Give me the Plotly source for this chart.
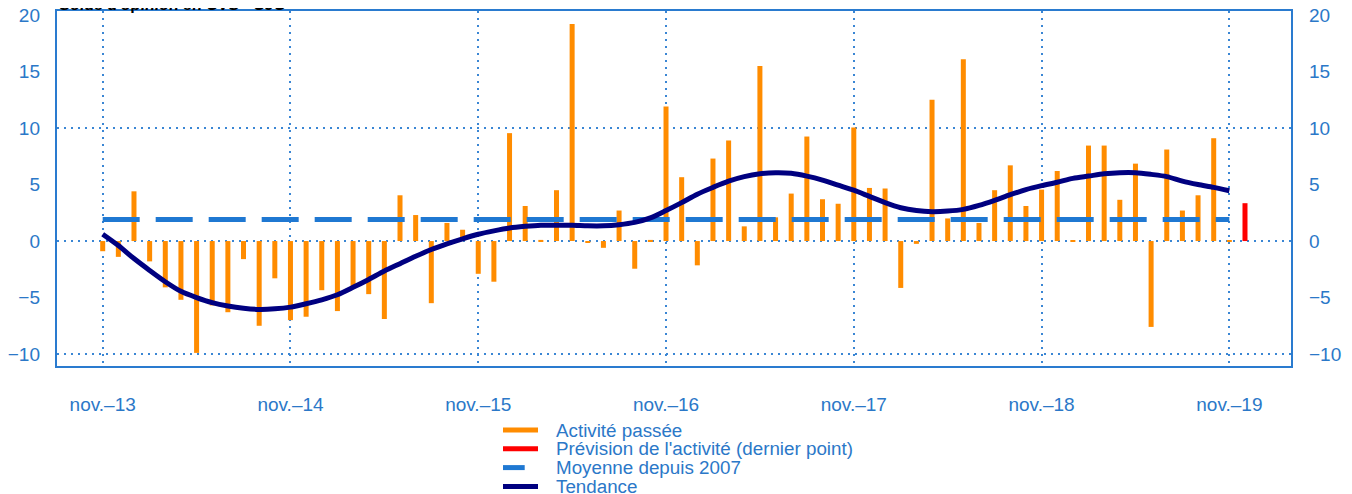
import plotly.graph_objects as go

# ---- data -------------------------------------------------------------
months = [
    "2013-11", "2013-12",
    "2014-01", "2014-02", "2014-03", "2014-04", "2014-05", "2014-06",
    "2014-07", "2014-08", "2014-09", "2014-10", "2014-11", "2014-12",
    "2015-01", "2015-02", "2015-03", "2015-04", "2015-05", "2015-06",
    "2015-07", "2015-08", "2015-09", "2015-10", "2015-11", "2015-12",
    "2016-01", "2016-02", "2016-03", "2016-04", "2016-05", "2016-06",
    "2016-07", "2016-08", "2016-09", "2016-10", "2016-11", "2016-12",
    "2017-01", "2017-02", "2017-03", "2017-04", "2017-05", "2017-06",
    "2017-07", "2017-08", "2017-09", "2017-10", "2017-11", "2017-12",
    "2018-01", "2018-02", "2018-03", "2018-04", "2018-05", "2018-06",
    "2018-07", "2018-08", "2018-09", "2018-10", "2018-11", "2018-12",
    "2019-01", "2019-02", "2019-03", "2019-04", "2019-05", "2019-06",
    "2019-07", "2019-08", "2019-09", "2019-10", "2019-11",
]
forecast_month = "2019-12"

activite = [
    -0.9, -1.4,
    4.4, -1.8, -4.1, -5.2, -9.9, -5.7, -6.3, -1.6, -7.5, -3.3, -7.0, -6.7,
    -4.35, -6.2, -4.2, -4.7, -6.9, 4.05, 2.3, -5.5, 1.6, 1.0, -2.9, -3.6,
    9.55, 3.1, 0.1, 4.5, 19.2, -0.15, -0.6, 2.7, -2.45, 0.1, 11.9, 5.65,
    -2.15, 7.3, 8.9, 1.3, 15.5, 2.1, 4.2, 9.25, 3.7, 3.3, 10.05, 4.7,
    4.65, -4.15, -0.25, 12.5, 2.0, 16.1, 1.6, 4.5, 6.7, 3.1, 4.55, 6.2,
    0.05, 8.45, 8.45, 3.65, 6.85, -7.6, 8.1, 2.7, 4.05, 9.1, 0.05,
]
prevision = [3.35]
moyenne = 1.9
tendance = [
    0.6, -0.4,
    -1.55, -2.6, -3.6, -4.45, -5.0, -5.45, -5.75, -5.95, -6.05, -6.0, -5.85, -5.55,
    -5.2, -4.75, -4.1, -3.4, -2.65, -2.0, -1.35, -0.75, -0.25, 0.2, 0.6, 0.9,
    1.15, 1.3, 1.4, 1.4, 1.4, 1.35, 1.35, 1.45, 1.65, 2.05, 2.7, 3.4,
    4.15, 4.75, 5.3, 5.7, 5.95, 6.05, 6.0, 5.75, 5.4, 4.95, 4.5, 3.95,
    3.4, 2.95, 2.7, 2.6, 2.65, 2.8, 3.15, 3.6, 4.1, 4.55, 4.9, 5.2,
    5.55, 5.75, 5.95, 6.05, 6.05, 5.9, 5.7, 5.3, 5.0, 4.75, 4.45,
]
tick_months = ["2013-11", "2014-11", "2015-11", "2016-11", "2017-11", "2018-11", "2019-11"]
tick_labels = ["nov.–13", "nov.–14", "nov.–15", "nov.–16", "nov.–17", "nov.–18", "nov.–19"]
y_ticks = [-10, -5, 0, 5, 10, 15, 20]
y_grid = [-10, 0, 10]

legend_names = ["Activité passée", "Prévision de l'activité (dernier point)",
                "Moyenne depuis 2007", "Tendance"]
title_text = "Solde d'opinion en CVS - CJO"

# ---- styles -------------------------------------------------------------
ORANGE = "#FF8C00"
RED = "#FF0000"
MEAN_BLUE = "#1F78D2"
NAVY = "#000080"
AXIS_BLUE = "#2A7BCF"
TEXT_BLUE = "#2B78C8"
GRID_BLUE = "#3A86D4"
FONT = "Liberation Sans, Arial, sans-serif"

idx = {m: i for i, m in enumerate(months + [forecast_month])}
xs = [idx[m] for m in months]
x_fc = [idx[forecast_month]]
tickvals = [idx[m] for m in tick_months]

YR = [-11.06, 20.36]
XR = [-2.92, 75.94]

fig = go.Figure()
fig.add_trace(go.Bar(x=xs, y=activite, width=0.32, marker=dict(color=ORANGE, line_width=0),
                     name=legend_names[0], showlegend=False))
fig.add_trace(go.Bar(x=x_fc, y=prevision, width=0.32, marker=dict(color=RED, line_width=0),
                     name=legend_names[1], showlegend=False))
fig.add_trace(go.Scatter(x=xs, y=[moyenne] * len(xs), mode="lines", yaxis="y2",
                         line=dict(color=MEAN_BLUE, width=5, dash="37px,16px"),
                         name=legend_names[2], showlegend=False))
fig.add_trace(go.Scatter(x=xs, y=tendance, mode="lines", yaxis="y3",
                         line=dict(color=NAVY, width=5, shape="spline", smoothing=0.8),
                         name=legend_names[3], showlegend=False))

tickfont = dict(family=FONT, size=19, color=TEXT_BLUE)

# page has an 8px body margin: figure is 1344x486, placed at (8, 8)
fig.update_layout(
    width=1344, height=486,
    margin=dict(l=49, r=61, t=3, b=128, autoexpand=False),
    paper_bgcolor="white", plot_bgcolor="white",
    barmode="overlay",
    showlegend=False,
    xaxis=dict(range=XR, tickmode="array", tickvals=tickvals, ticktext=tick_labels,
               showgrid=True, gridcolor=GRID_BLUE, griddash="2px,5px", gridwidth=1.6,
               showline=True, linecolor=AXIS_BLUE, linewidth=2, mirror=True,
               ticks="", zeroline=False, tickfont=tickfont, ticklabelstandoff=20,
               automargin=False, ticklabeloverflow="allow"),
    yaxis=dict(range=YR, tickmode="array", tickvals=y_grid, showticklabels=False,
               showgrid=True, gridcolor=GRID_BLUE, griddash="2px,5px", gridwidth=1.6,
               showline=True, linecolor=AXIS_BLUE, linewidth=2, mirror=True,
               ticks="", zeroline=False, automargin=False),
    yaxis2=dict(range=YR, overlaying="y", side="right", tickmode="array", tickvals=y_ticks,
                showgrid=False, zeroline=False, showline=False, ticks="",
                tickfont=tickfont, ticklabelstandoff=17, automargin=False,
                ticklabeloverflow="allow"),
    yaxis3=dict(range=YR, overlaying="y", side="left", tickmode="array", tickvals=y_ticks,
                showgrid=False, zeroline=False, showline=False, ticks="",
                tickfont=tickfont, ticklabelstandoff=16, automargin=False,
                ticklabeloverflow="allow"),
)

# title (partly cut at top of the page)
fig.add_annotation(text="<b>" + title_text + "</b>", xref="paper", yref="paper",
                   x=0, y=0.9875, xanchor="left", yanchor="bottom", showarrow=False,
                   font=dict(family=FONT, size=16, color="black"))

# custom legend (positions expressed in page pixels, converted to paper coords)
leg_colors = [ORANGE, RED, MEAN_BLUE, NAVY]
leg_len = [1.0, 1.0, 0.62, 1.0]
plot_w, plot_h, left_px, bottom_px = 1234, 355, 57, 366
for i, (nm, col) in enumerate(zip(legend_names, leg_colors)):
    py = 430 + i * 18.8
    yp = (bottom_px - py) / plot_h
    x0 = (503 - left_px) / plot_w
    x1 = (503 + 35 * leg_len[i] - left_px) / plot_w
    fig.add_shape(type="line", xref="paper", yref="paper", x0=x0, x1=x1, y0=yp, y1=yp,
                  line=dict(color=col, width=5))
    fig.add_annotation(text=nm, xref="paper", yref="paper", x=(554 - left_px) / plot_w, y=yp,
                       xanchor="left", yanchor="middle", showarrow=False,
                       font=dict(family=FONT, size=18.8, color=TEXT_BLUE))

fig.write_html("out.html")
